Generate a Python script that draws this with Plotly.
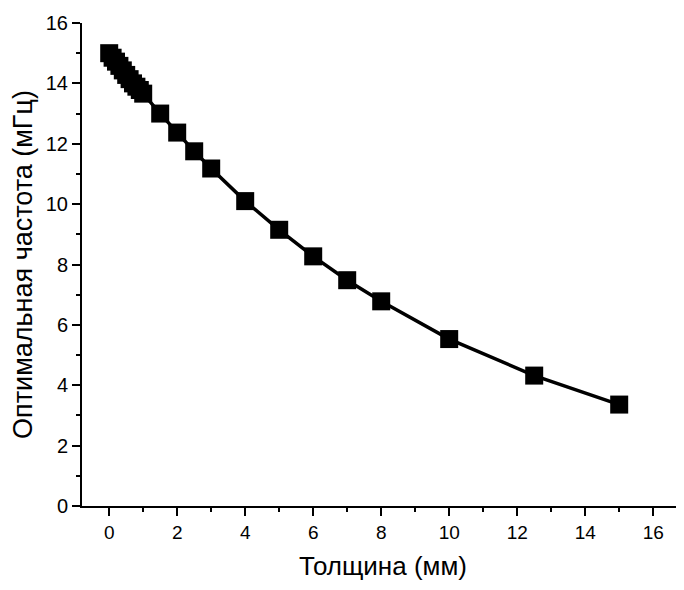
import plotly.graph_objects as go

thickness_mm = [0, 0.1, 0.2, 0.3, 0.4, 0.5, 0.6, 0.7, 0.8, 0.9, 1.0,
                1.5, 2, 2.5, 3, 4, 5, 6, 7, 8, 10, 12.5, 15]
freq_mhz = [15.0, 14.85, 14.72, 14.58, 14.43, 14.28, 14.14, 14.0, 13.89, 13.78, 13.66,
            13.0, 12.37, 11.75, 11.18, 10.1, 9.15, 8.27, 7.48, 6.78, 5.53, 4.32, 3.36]

x_title = "Толщина (мм)"
y_title = "Оптимальная частота (мГц)"
x_ticks = [0, 2, 4, 6, 8, 10, 12, 14, 16]
y_ticks = [0, 2, 4, 6, 8, 10, 12, 14, 16]

FONT = "Liberation Sans, Arial, sans-serif"

fig = go.Figure()
fig.add_trace(go.Scatter(
    x=thickness_mm, y=freq_mhz, mode="lines+markers",
    line=dict(color="black", width=3.5),
    marker=dict(symbol="square", size=18, color="black"),
    showlegend=False, cliponaxis=False,
))

# page body has an 8px margin, so the figure is laid out 8px smaller
fig.update_layout(
    width=676, height=582,
    margin=dict(l=74, r=0, t=15, b=84, pad=0),
    paper_bgcolor="white", plot_bgcolor="white",
    font=dict(family=FONT, color="black", size=19),
)
fig.update_xaxes(
    automargin=False,
    range=[-0.8, -0.8 + 602 / 34], tickvals=x_ticks, ticktext=[str(v) for v in x_ticks],
    showgrid=False, zeroline=False, showline=True, linecolor="black", linewidth=2,
    ticks="outside", ticklen=8, tickwidth=2, tickcolor="black",
    minor=dict(ticks="outside", ticklen=4, tickwidth=2, tickcolor="black", dtick=1, tick0=0),
    tickfont=dict(size=19, family=FONT),
    title=dict(text=x_title, font=dict(size=26, family=FONT), standoff=15),
)
fig.update_yaxes(
    automargin=False,
    range=[0, 16], tickvals=y_ticks, ticktext=[str(v) for v in y_ticks],
    showgrid=False, zeroline=False, showline=True, linecolor="black", linewidth=2,
    ticks="outside", ticklen=8, tickwidth=2, tickcolor="black",
    minor=dict(ticks="outside", ticklen=4, tickwidth=2, tickcolor="black", dtick=1, tick0=0),
    tickfont=dict(size=20, family=FONT),
    title=dict(text=y_title, font=dict(size=27, family=FONT), standoff=10),
)

fig.write_html("out.html")
